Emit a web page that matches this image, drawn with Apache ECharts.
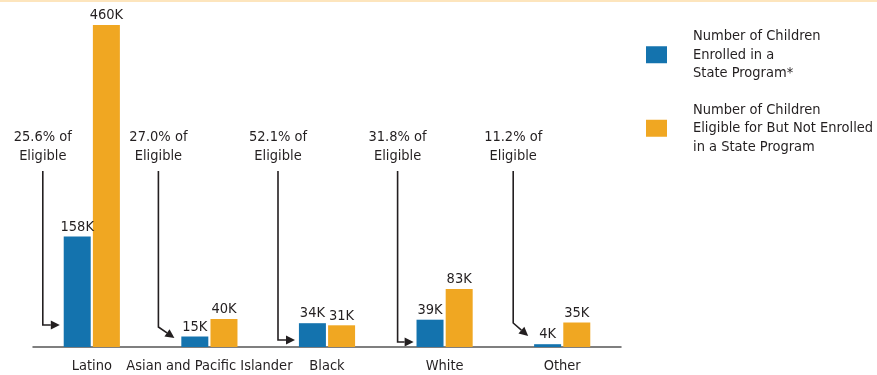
<!DOCTYPE html>
<html>
<head>
<meta charset="utf-8">
<script src="https://cdn.jsdelivr.net/npm/echarts@6/dist/echarts.min.js"></script>
<style>
  html, body { margin: 0; padding: 0; background: #fff; }
  #chart { width: 877px; height: 375px; }
</style>
</head>
<body>
<div id="chart"></div>
<script>
// values in thousands of children
var categories = ['Latino', 'Asian and Pacific Islander', 'Black', 'White', 'Other']
var enrolled = [158, 15, 34, 39, 4]
var notEnrolled = [460, 40, 31, 83, 35]
var shareOfEligible = ['25.6%', '27.0%', '52.1%', '31.8%', '11.2%']

var enrolledName = 'Number of Children\nEnrolled in a\nState Program*'
var notEnrolledName = 'Number of Children\nEligible for But Not Enrolled\nin a State Program'

var FONT = "'DejaVu Sans Condensed', sans-serif"
var FS = 14.5
var INK = '#231f20'
var BLUE = '#1473ae'
var ORANGE = '#f0a722'

// pointer shapes for the "% of eligible" notes (pixel offsets from category centre / axis)
var pointers = [
  { dx: -49, bendDy: -22, tipDx: -32, tipDy: -22 },
  { dx: -51, bendDy: -20, tipDx: -35, tipDy: -9 },
  { dx: -49, bendDy: -7, tipDx: -32, tipDy: -7 },
  { dx: -47, bendDy: -5, tipDx: -31, tipDy: -5 },
  { dx: -49, bendDy: -24, tipDx: -34, tipDy: -11 }
]

var chart = echarts.init(document.getElementById('chart'))

var barLabel = {
  show: true,
  position: 'top',
  distance: 2,
  fontFamily: FONT,
  fontSize: FS,
  color: INK,
  formatter: function (p) { return p.value + 'K' }
}

chart.setOption({
  animation: false,
  grid: { left: 33, right: 256, top: 25, bottom: 28 },
  legend: {
    orient: 'vertical',
    left: 646,
    top: 27,
    padding: 0,
    icon: 'rect',
    itemWidth: 21,
    itemHeight: 17,
    itemGap: 18,
    selectedMode: false,
    textStyle: {
      fontFamily: FONT,
      fontSize: FS,
      color: INK,
      lineHeight: 18.5,
      padding: [0, 0, 0, 21]
    },
    data: [enrolledName, notEnrolledName]
  },
  xAxis: {
    type: 'category',
    data: categories,
    axisTick: { show: false },
    axisLine: { lineStyle: { color: '#555', width: 1.5 } },
    axisLabel: { fontFamily: FONT, fontSize: FS, color: INK, margin: 12, interval: 0 }
  },
  yAxis: {
    type: 'value',
    min: 0,
    max: 460,
    show: false,
    splitLine: { show: false }
  },
  series: [{
    name: enrolledName,
    type: 'bar',
    data: enrolled,
    barWidth: 27,
    barGap: '8%',
    itemStyle: { color: BLUE },
    label: barLabel
  }, {
    name: notEnrolledName,
    type: 'bar',
    data: notEnrolled,
    barWidth: 27,
    itemStyle: { color: ORANGE },
    label: barLabel
  }]
})

// notes with arrows, placed from the axis scales
function buildNotes() {
  var axisY = chart.convertToPixel({ yAxisIndex: 0 }, 0)
  var els = [{
    type: 'rect',
    shape: { x: 0, y: 0, width: 877, height: 2 },
    style: { fill: '#fde5bd' }
  }]
  categories.forEach(function (c, i) {
    var cx = chart.convertToPixel({ xAxisIndex: 0 }, i)
    var p = pointers[i]
    var x = cx + p.dx
    els.push({
      type: 'text',
      x: x,
      y: 128,
      style: {
        text: shareOfEligible[i] + ' of\nEligible',
        font: FS + 'px ' + FONT,
        fill: INK,
        align: 'center',
        verticalAlign: 'top',
        lineHeight: 18.5
      }
    })
    var bend = [x, axisY + p.bendDy]
    var tip = [cx + p.tipDx, axisY + p.tipDy]
    var vx = tip[0] - bend[0], vy = tip[1] - bend[1]
    var len = Math.sqrt(vx * vx + vy * vy)
    var ux = vx / len, uy = vy / len
    var base = [tip[0] - ux * 9, tip[1] - uy * 9]
    els.push({
      type: 'polyline',
      shape: { points: [[x, 171], bend, base] },
      style: { stroke: INK, lineWidth: 1.6, fill: null }
    })
    els.push({
      type: 'polygon',
      shape: {
        points: [tip, [base[0] - uy * 4.5, base[1] + ux * 4.5], [base[0] + uy * 4.5, base[1] - ux * 4.5]]
      },
      style: { fill: INK }
    })
  })
  chart.setOption({ graphic: { elements: els } })
}

buildNotes()
</script>
</body>
</html>
